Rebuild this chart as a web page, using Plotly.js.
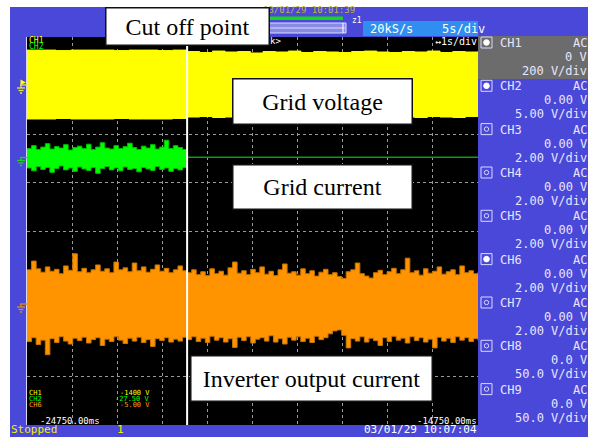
<!DOCTYPE html>
<html>
<head>
<meta charset="utf-8">
<script src="https://cdn.plot.ly/plotly-3.0.1.min.js"></script>
<style>html,body{margin:0;padding:0;background:#fff;}#chart{width:591px;height:437px;}</style>
</head>
<body>
<div id="chart"></div>
<script>
// ---------- DATA (vertical values in screen divisions, time in ms) ----------
const tStart = -24750, tCut = -21200, tEnd = -14750;

// CH1 grid voltage envelope
const ch1UpperBefore = [3.73,3.73,3.72,3.73,3.73,3.73,3.72,3.73,3.73,3.72,3.73,3.73];
const ch1LowerBefore = [2.31,2.31,2.32,2.31,2.31,2.31,2.32,2.31,2.31,2.31,2.32,2.31];
const ch1UpperAfter  = [3.70,3.68,3.71,3.69,3.70,3.67,3.70,3.69,3.71,3.68,3.70,3.69,3.68,3.70,3.71,3.69,3.68,3.70,3.69,3.71,3.68,3.70,3.69,3.70];
const ch1LowerAfter  = [2.35,2.36,2.34,2.35,2.37,2.34,2.35,2.36,2.34,2.35,2.36,2.34,2.35,2.37,2.35,2.34,2.36,2.35,2.34,2.36,2.35,2.34,2.36,2.35];

// CH2 grid current envelope
const ch2UpperBefore = [1.70,1.76,1.68,1.73,1.80,1.69,1.74,1.71,1.78,1.67,1.72,1.75,1.70,1.79,1.68,1.73,1.82,1.71,1.69,1.76,1.70,1.74,1.81,1.72,1.68,1.75,1.71,1.78,1.69,1.73,1.87,1.70,1.76,1.72,1.68,1.74];
const ch2LowerBefore = [1.30,1.24,1.33,1.27,1.31,1.21,1.29,1.34,1.26,1.30,1.23,1.32,1.28,1.25,1.31,1.19,1.29,1.33,1.26,1.30,1.24,1.32,1.27,1.29,1.22,1.31,1.28,1.25,1.33,1.27,1.30,1.23,1.29,1.26,1.31,1.28];
const ch2After = [1.52,1.52];

// CH6 inverter output current envelope
const ch6UpperBefore = [-0.80,-0.62,-0.78,-0.85,-0.74,-0.83,-0.79,-0.88,-0.72,-0.81,-0.47,-0.84,-0.77,-0.86,-0.80,-0.70,-0.83,-0.78,-0.86,-0.64,-0.80,-0.76,-0.84,-0.66,-0.82,-0.74,-0.85,-0.79,-0.70,-0.83,-0.77,-0.86,-0.80,-0.72,-0.82,-0.76];
const ch6LowerBefore = [-2.28,-2.20,-2.34,-2.25,-2.55,-2.22,-2.30,-2.18,-2.27,-2.33,-2.21,-2.26,-2.19,-2.31,-2.24,-2.20,-2.36,-2.23,-2.28,-2.18,-2.25,-2.32,-2.21,-2.27,-2.19,-2.30,-2.24,-2.38,-2.22,-2.26,-2.20,-2.29,-2.23,-2.27,-2.19,-2.25];
const ch6UpperAfter = [-0.86,-0.80,-0.90,-0.84,-0.92,-0.78,-0.88,-0.83,-0.91,-0.76,-0.64,-0.87,-0.82,-0.90,-0.79,-0.86,-0.74,-0.89,-0.83,-0.92,-0.80,-0.68,-0.87,-0.84,-0.91,-0.78,-0.88,-0.82,-0.93,-0.85,-0.79,-0.90,-0.86,-0.94,-0.98,-0.84,-0.80,-0.66,-0.88,-0.93,-0.97,-0.86,-0.81,-0.90,-0.84,-0.77,-0.88,-0.80,-0.56,-0.86,-0.82,-0.91,-0.78,-0.87,-0.83,-0.74,-0.89,-0.84,-0.80,-0.90,-0.72,-0.86,-0.82,-0.88,-0.84];
const ch6LowerAfter = [-2.24,-2.18,-2.28,-2.21,-2.30,-2.17,-2.25,-2.20,-2.29,-2.22,-2.40,-2.19,-2.26,-2.18,-2.31,-2.23,-2.20,-2.27,-2.16,-2.29,-2.22,-2.33,-2.19,-2.25,-2.18,-2.28,-2.21,-2.30,-2.17,-2.24,-2.20,-2.12,-2.06,-2.04,-2.15,-2.41,-2.22,-2.27,-2.18,-2.29,-2.21,-2.26,-2.36,-2.20,-2.28,-2.17,-2.25,-2.21,-2.31,-2.18,-2.26,-2.20,-2.29,-2.23,-2.41,-2.19,-2.27,-2.21,-2.30,-2.18,-2.25,-2.20,-2.28,-2.22,-2.26];

// Channel panel text
const chNames    = ["CH1","CH2","CH3","CH4","CH5","CH6","CH7","CH8","CH9"];
const chCoupling = ["AC","AC","AC","AC","AC","AC","AC","AC","AC"];
const chOffsets  = ["0 V","0.00 V","0.00 V","0.00 V","0.00 V","0.00 V","0.00 V","0.0 V","0.0 V"];
const chScales   = ["200 V/div","5.00 V/div","2.00 V/div","2.00 V/div","2.00 V/div","2.00 V/div","2.00 V/div","50.0 V/div","50.0 V/div"];
const chActive   = [true,true,false,false,false,true,false,false,false];

const cursorNames  = ["CH1","CH2","CH6"];
const cursorValues = ["-1400 V","-27.50 V","-5.00 V"];
const timeLeftLabel = "-24750.00ms", timeRightLabel = "-14750.00ms";
const labels = {cut:"Cut off point", volt:"Grid voltage", cur:"Grid current", inv:"Inverter output current"};

// ---------- helpers ----------
function sampleTimes(n, a, b){ const r=[]; for(let i=0;i<n;i++) r.push(a + (b-a)*i/(n-1)); return r; }
const L=27, T=37, W=451, H=388;
const X = p => (p - L)/W;
const Y = p => (T + H - p)/H;

const YEL='#ffff00', GRN='#00ff00', ORG='#ff9300', BLUE='#4a48d8', PANEL='#e6e6ff';

function band(upper, lower, a, b, fill, edge, shape){
  const x = sampleTimes(upper.length, a, b);
  return [
    {x:x, y:lower, type:'scatter', mode:'lines', line:{color:edge, width:1, shape:shape||'linear'}, hoverinfo:'skip'},
    {x:x, y:upper, type:'scatter', mode:'lines', fill:'tonexty', fillcolor:fill, line:{color:edge, width:1, shape:shape||'linear'}, hoverinfo:'skip'}
  ];
}

const traces = [].concat(
  band(ch1UpperBefore, ch1LowerBefore, tStart, tCut, YEL, YEL, 'hv'),
  band(ch1UpperAfter, ch1LowerAfter, tCut, tEnd, YEL, YEL, 'hv'),
  band(ch2UpperBefore, ch2LowerBefore, tStart, tCut, GRN, '#00c000', 'hv'),
  [{x:sampleTimes(ch2After.length, tCut, tEnd), y:ch2After, type:'scatter', mode:'lines', line:{color:'#109a10', width:1.5}}],
  band(ch6UpperBefore, ch6LowerBefore, tStart, tCut, ORG, '#c87400', 'hv'),
  band(ch6UpperAfter, ch6LowerAfter, tCut, tEnd, ORG, '#c87400', 'hv'),
  [{x:[tCut,tCut], y:[-4,4], type:'scatter', mode:'lines', line:{color:'#ffffff', width:2}}]
);

// ---------- shapes ----------
const shapes = [];
function rect(x0,y0,x1,y1,fill,line,lw){ shapes.push({type:'rect', xref:'paper', yref:'paper', x0:X(x0), x1:X(x1), y0:Y(y0), y1:Y(y1), fillcolor:fill||'rgba(0,0,0,0)', line:{color:line||'rgba(0,0,0,0)', width:lw||0}}); }
function seg(x0,y0,x1,y1,color,w){ shapes.push({type:'line', xref:'paper', yref:'paper', x0:X(x0), x1:X(x1), y0:Y(y0), y1:Y(y1), line:{color:color, width:w||1}}); }
function circ(cx,cy,r,fill,line){ shapes.push({type:'circle', xref:'paper', yref:'paper', x0:X(cx-r), x1:X(cx+r), y0:Y(cy-r), y1:Y(cy+r), fillcolor:fill||'rgba(0,0,0,0)', line:{color:line||'rgba(0,0,0,0)', width:1}}); }

// white frame
rect(0,0,10,437,'#ffffff');
rect(0,0,591,7,'#ffffff');
rect(588,0,591,437,'#ffffff');
// top bar widgets
rect(265,16.5,343,20,'#14d814');
rect(262,23,346,33,'#8a8ae6','#dcdcff',1);
seg(263,28,345,28,'#dcdcff',1);
seg(343,23,343,33,'#ffffff',1);
rect(363,21,478,36,'#2f8ef0');
// CH1 gray panel
rect(478,36,588,79,'#6c6c6c');
// channel icons
const rowCenters = [43,86.3,129.6,173,216.3,259.6,303,346.3,389.6];
rowCenters.forEach((c,i)=>{
  rect(481,c-6,492,c+5,null,'#d8d8ff',1);
  if(chActive[i]) circ(486.5,c-0.5,2.8,'#ffffff','#ffffff');
  else circ(486.5,c-0.5,2.2,null,'#d8d8ff');
});
// ground markers
function ground(Lv,color){
  seg(20,Lv,27,Lv,color,1.3);
  seg(21,Lv,21,Lv+3,color,1.3);
  seg(17,Lv+3,25,Lv+3,color,1.3);
  seg(18.5,Lv+5.5,23.5,Lv+5.5,color,1.3);
  seg(20,Lv+8,22,Lv+8,color,1.3);
}
shapes.push({type:'path', xref:'paper', yref:'paper', path:`M${X(20.5)},${Y(79.5)} L${X(26)},${Y(82.5)} L${X(20.5)},${Y(85)} Z`, fillcolor:YEL, line:{color:YEL,width:0}});
ground(85,'#e8e840');
ground(157.5,'#20d020');
ground(304,'#e08a10');

// ---------- annotations ----------
const MONO='DejaVu Sans Mono';
const anns=[];
function txt(s,px,py,anchor,size,color,yanchor){
  anns.push({text:s, x:X(px), y:Y(py), xref:'paper', yref:'paper', showarrow:false, xanchor:anchor, yanchor:yanchor||'middle', borderpad:0, font:{family:MONO, size:size, color:color}});
}
function box(s,x0,y0,x1,y1){
  anns.push({text:s, x:X((x0+x1)/2), y:Y((y0+y1)/2), xref:'paper', yref:'paper', showarrow:false, xanchor:'center', yanchor:'middle',
    width:x1-x0-3, height:y1-y0-3, align:'center', valign:'middle', bgcolor:'#ffffff', bordercolor:'#111111', borderwidth:1.5, borderpad:0,
    font:{family:'Liberation Serif', size:24, color:'#000000'}});
}

// top bar text
txt("03/01/29 10:01:39",262,9.5,'left',9,'#c0b440');
txt("z1",351,21,'left',8,'#ffffff');
txt("20kS/s",369,29,'left',12,'#ffffff');
txt("5s/div",441,29,'left',12,'#ffffff');
// in-plot top labels
txt("CH1",28,40.5,'left',8,YEL);
txt("CH2",28,46.5,'left',8,GRN);
txt("k>",269,41,'left',9,'#ffffff');
txt("↔1s/div",478,42,'right',10,'#ffffff');
// right panel
rowCenters.forEach((c,i)=>{
  txt(chNames[i],499,c,'left',12,PANEL);
  txt(chCoupling[i],588,c,'right',12,PANEL);
  txt(chOffsets[i],588,c+14,'right',12,PANEL);
  txt(chScales[i],588,c+28,'right',12,PANEL);
});
// cursor readouts
const curColors=[YEL,GRN,'#ff9a10'];
cursorNames.forEach((n,i)=>{
  txt(n,28,393+6*i,'left',7,curColors[i]);
  txt(cursorValues[i],151,393+6*i,'right',7,curColors[i]);
});
txt(timeLeftLabel,39,421,'left',9,'#ffffff');
txt(timeRightLabel,478,421,'right',9,'#ffffff');
// status bar
txt("Stopped",10,437,'left',11,'#f4f000','bottom');
txt("1",120,437,'center',11,'#f4f000','bottom');
txt("03/01/29 10:07:04",478,437,'right',11,'#ffffff','bottom');
// label boxes
box(labels.cut,105,7,270,46);
box(labels.volt,232,78,413,125);
box(labels.cur,232,164,413,210);
box(labels.inv,190,355,433,402);

const layout = {
  width:591, height:437,
  margin:{l:27, r:113, t:37, b:12, autoexpand:false},
  paper_bgcolor:BLUE, plot_bgcolor:'#000000',
  showlegend:false, hovermode:false,
  xaxis:{range:[tStart,tEnd], tick0:tStart, dtick:1000, showgrid:true, gridcolor:'#9a9a9a', griddash:'dot', gridwidth:1,
         zeroline:false, showticklabels:false, ticks:'', showline:false, fixedrange:true},
  yaxis:{range:[-4,4], tick0:-4, dtick:1, showgrid:true, gridcolor:'#9a9a9a', griddash:'dot', gridwidth:1,
         zeroline:false, showticklabels:false, ticks:'', showline:true, linecolor:'#d8d8ff', linewidth:1, fixedrange:true},
  shapes:shapes,
  annotations:anns
};
Plotly.newPlot('chart', traces, layout, {staticPlot:true, displayModeBar:false});
</script>
</body>
</html>
